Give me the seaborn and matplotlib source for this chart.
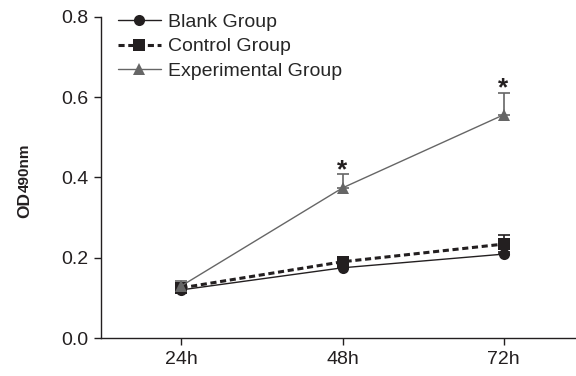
import numpy as np
import pandas as pd
import matplotlib
matplotlib.use('Agg')
import matplotlib.pyplot as plt
import seaborn as sns

# data
times = ['24h', '48h', '72h']
groups = ['Blank Group', 'Control Group', 'Experimental Group']
blank = [0.120, 0.175, 0.209]
control = [0.125, 0.190, 0.234]
experimental = [0.130, 0.374, 0.556]
blank_err = [0.005, 0.005, 0.005]
control_err = [0.008, 0.010, 0.022]
experimental_err = [0.013, 0.034, 0.055]
significant = [False, True, True]

sns.set_style('ticks')
plt.rcParams['font.family'] = ['Liberation Sans', 'DejaVu Sans']

df = pd.DataFrame({
    'x': np.tile(np.arange(len(times)), 3),
    'od': blank + control + experimental,
    'group': np.repeat(groups, len(times)),
})

colors = {'Blank Group': '#231f20', 'Control Group': '#231f20', 'Experimental Group': '#666666'}
markers = {'Blank Group': 'o', 'Control Group': 's', 'Experimental Group': '^'}
dashes = {'Blank Group': '', 'Control Group': (2, 1.2), 'Experimental Group': ''}
lw = {'Blank Group': 1.0, 'Control Group': 2.2, 'Experimental Group': 1.0}
errs = {'Blank Group': blank_err, 'Control Group': control_err, 'Experimental Group': experimental_err}
vals = {'Blank Group': blank, 'Control Group': control, 'Experimental Group': experimental}

fig = plt.figure(figsize=(5.76, 3.76), dpi=100)
ax = fig.add_axes([0.1753, 0.101, 0.8247, 0.854])

# one-sided (upper) error bars
for g in groups:
    e = errs[g]
    ax.errorbar(np.arange(len(times)), vals[g], yerr=[np.zeros(len(e)), e],
                fmt='none', ecolor=colors[g], elinewidth=1.2, capsize=4, capthick=1.2, zorder=1)

sns.lineplot(data=df, x='x', y='od', hue='group', style='group', palette=colors,
             markers=markers, dashes=dashes, markersize=8, markeredgewidth=0,
             ax=ax, zorder=3)

plotted = [l for l in ax.lines if len(l.get_xdata()) == len(times)]
for l, g in zip(plotted[-3:], groups):
    l.set_linewidth(lw[g])

# significance stars
for i, s in enumerate(significant):
    if s:
        ax.annotate('*', (i, experimental[i] + experimental_err[i]), xytext=(0, -2),
                    textcoords='offset points', ha='center', va='baseline',
                    fontsize=19, fontweight='bold', color='#231f20')

ax.set_xlim(-0.5, 2.45)
ax.set_ylim(0, 0.8)
ax.set_xticks(range(len(times)))
ax.set_xticklabels(times)
ax.set_yticks([0.0, 0.2, 0.4, 0.6, 0.8])
ax.set_yticklabels(['0.0', '0.2', '0.4', '0.6', '0.8'])
ax.set_xlabel('')
ax.set_ylabel('')
ax.tick_params(labelsize=14, length=5, width=1, color='#231f20', labelcolor='#231f20', pad=4)
for sp in ['left', 'bottom']:
    ax.spines[sp].set_linewidth(1)
    ax.spines[sp].set_color('#231f20')
ax.spines['top'].set_visible(False)
ax.spines['right'].set_visible(False)

handles, labels = ax.get_legend_handles_labels()
leg = ax.legend(handles, labels, loc='upper left', bbox_to_anchor=(0.019, 1.035), frameon=False,
                fontsize=14, handlelength=2.2, handletextpad=0.4, labelspacing=0.35,
                borderaxespad=0)
for h, g in zip(leg.legend_handles, labels):
    h.set_linewidth(lw.get(g, 1))

# y label: bold "OD" with smaller "490nm" on the same baseline
od = fig.text(0.0556, 0.4202, 'OD', rotation=90, ha='right', va='bottom',
              fontsize=12.5, fontweight='bold', color='#231f20')
fig.canvas.draw()
bb = od.get_window_extent().transformed(fig.transFigure.inverted())
fig.text(0.0556, bb.y1, '490nm', rotation=90, ha='right', va='bottom',
         fontsize=11, fontweight='bold', color='#231f20')

fig.savefig('out.png', dpi=100)
